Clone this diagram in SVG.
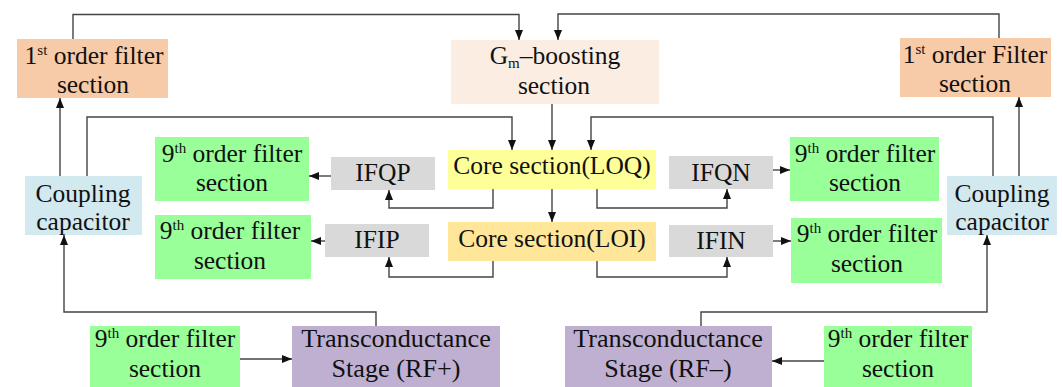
<svg xmlns="http://www.w3.org/2000/svg" width="1062" height="387" viewBox="0 0 1062 387" font-family="'Liberation Serif', 'DejaVu Serif', serif">
<style>
text{font-family:'Liberation Serif','DejaVu Serif',serif;font-size:25.5px;fill:#111;text-anchor:middle}
.big{font-size:26.2px}
.sup{font-size:15px}
.sub{font-size:15px}
.c{fill:none;stroke:#444;stroke-width:1.4}
.first{fill:#F8CBA8}
.gm{fill:#FCEDE3}
.loq{fill:#FFFF99}
.loi{fill:#FFE699}
.ifb{fill:#D9D9D9}
.f9{fill:#99FF99}
.cap{fill:#D2E9F0}
.tr{fill:#BFB0D1}
</style>
<defs>
<marker id="ah" markerWidth="10" markerHeight="8" refX="10" refY="4" orient="auto" markerUnits="userSpaceOnUse">
<path d="M0,0 L10,4 L0,8 Z" fill="#111"/>
</marker>
</defs>

<g id="first-left"><rect class="first" x="17" y="39" width="151" height="59"/>
<text x="94" y="64">1<tspan class="sup" dy="-9">st</tspan><tspan dy="9"> order filter</tspan></text>
<text x="93" y="93">section</text></g>

<g id="gm"><rect class="gm" x="451" y="40" width="208" height="64"/>
<text x="555" y="64">G<tspan class="sub" dy="4">m</tspan><tspan dy="-4">–boosting</tspan></text>
<text x="554" y="94">section</text></g>

<g id="first-right"><rect class="first" x="900" y="38" width="151" height="59"/>
<text x="975" y="63">1<tspan class="sup" dy="-9">st</tspan><tspan dy="9"> order Filter</tspan></text>
<text x="975" y="92">section</text></g>

<g id="core-loq"><rect class="loq" x="448" y="150" width="208" height="39"/>
<text x="552" y="174">Core section(LOQ)</text></g>

<g id="core-loi"><rect class="loi" x="448" y="222" width="208" height="39"/>
<text x="552" y="247">Core section(LOI)</text></g>

<g id="ifqp"><rect class="ifb" x="331" y="157" width="104" height="33"/>
<text x="383" y="181">IFQP</text></g>
<g id="ifip"><rect class="ifb" x="325" y="224" width="104" height="33"/>
<text x="377" y="248">IFIP</text></g>
<g id="ifqn"><rect class="ifb" x="669" y="156" width="104" height="33"/>
<text x="721" y="181">IFQN</text></g>
<g id="ifin"><rect class="ifb" x="669" y="225" width="104" height="32"/>
<text x="721" y="249">IFIN</text></g>

<g id="f9-ql"><rect class="f9" x="155" y="137" width="154" height="64"/>
<text x="232" y="162">9<tspan class="sup" dy="-9">th</tspan><tspan dy="9"> order filter</tspan></text>
<text x="232" y="191">section</text></g>
<g id="f9-il"><rect class="f9" x="155" y="215" width="156" height="64"/>
<text x="230" y="239">9<tspan class="sup" dy="-9">th</tspan><tspan dy="9"> order filter</tspan></text>
<text x="230" y="269">section</text></g>
<g id="f9-qr"><rect class="f9" x="790" y="137" width="149" height="64"/>
<text x="865" y="162">9<tspan class="sup" dy="-9">th</tspan><tspan dy="9"> order filter</tspan></text>
<text x="865" y="191">section</text></g>
<g id="f9-ir"><rect class="f9" x="791" y="218" width="151" height="65"/>
<text x="867" y="242">9<tspan class="sup" dy="-9">th</tspan><tspan dy="9"> order filter</tspan></text>
<text x="867" y="272">section</text></g>

<g id="cap-left"><rect class="cap" x="25" y="176" width="117" height="59"/>
<text x="83" y="202">Coupling</text>
<text x="83" y="230">capacitor</text></g>
<g id="cap-right"><rect class="cap" x="947" y="176" width="110" height="59"/>
<text x="1002" y="202">Coupling</text>
<text x="1002" y="230">capacitor</text></g>

<g id="f9-bl"><rect class="f9" x="90" y="326" width="150" height="61"/>
<text x="165" y="347">9<tspan class="sup" dy="-9">th</tspan><tspan dy="9"> order filter</tspan></text>
<text x="165" y="377">section</text></g>
<g id="tr-plus"><rect class="tr" x="292" y="326" width="208" height="61"/>
<text class="big" x="396" y="347">Transconductance</text>
<text class="big" x="396" y="377">Stage (RF+)</text></g>
<g id="tr-minus"><rect class="tr" x="565" y="326" width="207" height="61"/>
<text class="big" x="668" y="347">Transconductance</text>
<text class="big" x="668" y="377">Stage (RF–)</text></g>
<g id="f9-br"><rect class="f9" x="824" y="326" width="148" height="61"/>
<text x="898" y="347">9<tspan class="sup" dy="-9">th</tspan><tspan dy="9"> order filter</tspan></text>
<text x="898" y="377">section</text></g>

<g id="connectors">
<path class="c" d="M73,39 V14.5 H519 V40" marker-end="url(#ah)"/>
<path class="c" d="M999,38 V14 H558 V40" marker-end="url(#ah)"/>
<path class="c" d="M552,104 V150" marker-end="url(#ah)"/>
<path class="c" d="M87,176 V117 H512 V150" marker-end="url(#ah)"/>
<path class="c" d="M993,176 V117 H591 V150" marker-end="url(#ah)"/>
<path class="c" d="M60,176 V98" marker-end="url(#ah)"/>
<path class="c" d="M1019,176 V97" marker-end="url(#ah)"/>
<path class="c" d="M552,189 V222" marker-end="url(#ah)"/>
<path class="c" d="M493,189 V208 H389 V190" marker-end="url(#ah)"/>
<path class="c" d="M597,189 V208 H727 V189" marker-end="url(#ah)"/>
<path class="c" d="M493,261 V277 H389 V257" marker-end="url(#ah)"/>
<path class="c" d="M597,261 V277 H727 V257" marker-end="url(#ah)"/>
<path class="c" d="M331,176 H309" marker-end="url(#ah)"/>
<path class="c" d="M325,241 H311" marker-end="url(#ah)"/>
<path class="c" d="M773,170 H790" marker-end="url(#ah)"/>
<path class="c" d="M773,241 H791" marker-end="url(#ah)"/>
<path class="c" d="M376,326 V312 H64 V235" marker-end="url(#ah)"/>
<path class="c" d="M701,326 V312 H987 V235" marker-end="url(#ah)"/>
<path class="c" d="M240,359 H292" marker-end="url(#ah)"/>
<path class="c" d="M824,361 H772" marker-end="url(#ah)"/>
</g>
</svg>
